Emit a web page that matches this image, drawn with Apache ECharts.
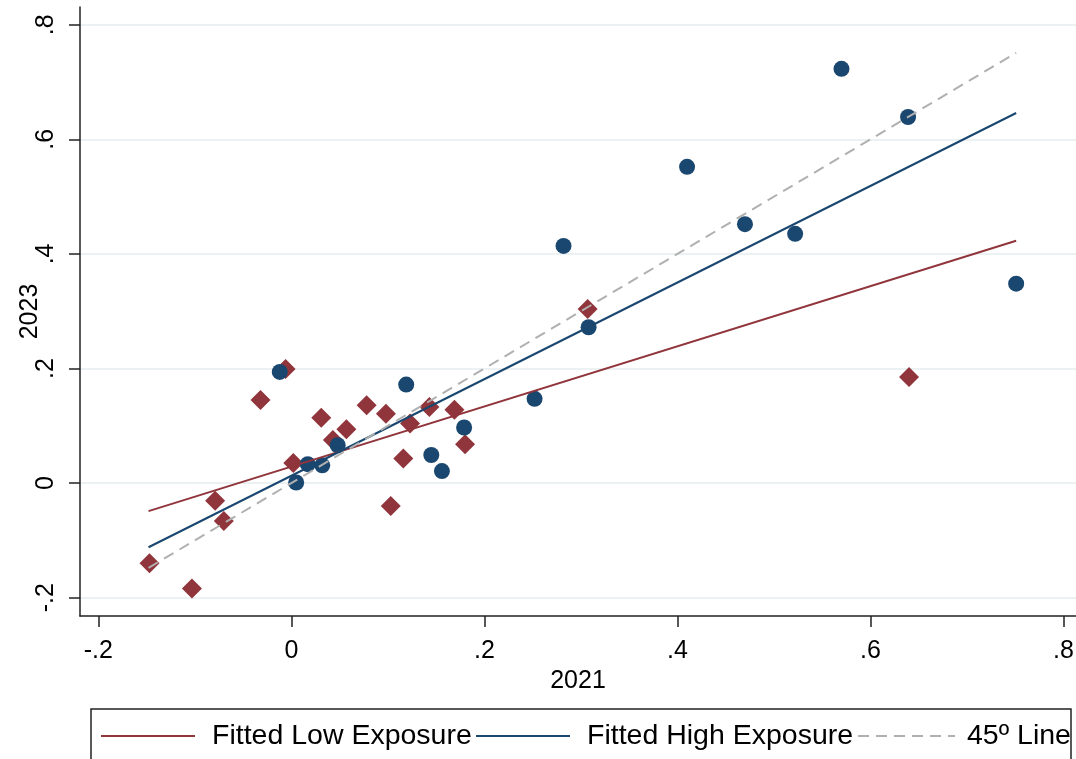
<!DOCTYPE html>
<html>
<head>
<meta charset="utf-8">
<script src="https://cdn.jsdelivr.net/npm/echarts@6/dist/echarts.min.js"></script>
<style>
  html, body { margin: 0; padding: 0; background: #fff; }
  #chart { width: 1076px; height: 759px; }
</style>
</head>
<body>
<div id="chart"></div>
<script>
// Low-exposure observations (diamonds)
const lowX = [-0.147, -0.103, -0.079, -0.070, -0.032, -0.006, 0.002, 0.031, 0.043, 0.057,
              0.078, 0.098, 0.103, 0.116, 0.123, 0.143, 0.169, 0.180, 0.307, 0.640];
const lowY = [-0.140, -0.184, -0.031, -0.066, 0.145, 0.199, 0.035, 0.114, 0.075, 0.094,
              0.136, 0.121, -0.040, 0.043, 0.104, 0.133, 0.128, 0.068, 0.304, 0.185];

// High-exposure observations (circles)
const highX = [-0.012, 0.005, 0.017, 0.032, 0.048, 0.119, 0.145, 0.156, 0.179,
               0.252, 0.282, 0.308, 0.410, 0.470, 0.522, 0.570, 0.639, 0.751];
const highY = [0.194, 0.001, 0.033, 0.031, 0.066, 0.172, 0.049, 0.021, 0.097,
               0.147, 0.414, 0.272, 0.552, 0.452, 0.435, 0.723, 0.639, 0.348];

// Fitted lines and the 45-degree reference, evaluated at the ends of the data range
const lineX = [-0.148, 0.751];
const fitLowY = [-0.049, 0.423];
const fitHighY = [-0.112, 0.646];
const diagY = [-0.148, 0.751];

// Tick positions on both axes
const tickValues = [-0.2, 0, 0.2, 0.4, 0.6, 0.8];

// Legend entries
const legendNames = ['Fitted Low Exposure', 'Fitted High Exposure', '45º Line'];

const pairs = (xs, ys) => xs.map((x, i) => [x, ys[i]]);
const fmt = v => (Math.abs(v) < 1e-9 ? '0' : v.toFixed(1).replace('0.', '.'));

const FONT = 'Liberation Sans, Arial, sans-serif';
const NAVY = '#1a476f';
const MAROON = '#90353b';
const GREY = '#b0b0b0';
const AXIS = '#222';
const DASH = [11, 7];

const chart = echarts.init(document.getElementById('chart'), null, { renderer: 'canvas' });

// Legend drawn as a framed row: line sample followed by its label
const legendY = 736;
const legendItems = [
  { name: legendNames[0], color: MAROON, dash: null, x0: 101, x1: 195, tx: 212 },
  { name: legendNames[1], color: NAVY, dash: null, x0: 476, x1: 570, tx: 587 },
  { name: legendNames[2], color: GREY, dash: DASH, x0: 858, x1: 955, tx: 967 }
];
const legendGraphics = [{
  type: 'rect',
  shape: { x: 91, y: 709, width: 980, height: 90 },
  style: { fill: '#fff', stroke: AXIS, lineWidth: 1.5 },
  silent: true
}];
legendItems.forEach(it => {
  legendGraphics.push({
    type: 'line',
    shape: { x1: it.x0, y1: legendY, x2: it.x1, y2: legendY },
    style: { stroke: it.color, lineWidth: 2, lineDash: it.dash },
    silent: true
  });
  legendGraphics.push({
    type: 'text',
    x: it.tx,
    y: legendY,
    style: {
      text: it.name,
      fontFamily: FONT,
      fontSize: 28.5,
      fill: '#000',
      textVerticalAlign: 'middle',
      verticalAlign: 'middle'
    },
    silent: true
  });
});

chart.setOption({
  animation: false,
  backgroundColor: '#fff',
  grid: { left: 80, right: 0, top: 7, bottom: 143, containLabel: false, outerBoundsMode: 'none' },
  xAxis: {
    type: 'value',
    min: -0.219,
    max: 0.813,
    name: '2021',
    nameLocation: 'middle',
    nameGap: 53,
    nameMoveOverlap: false,
    nameTextStyle: { fontFamily: FONT, fontSize: 25, color: '#000' },
    axisLine: { show: true, onZero: false, lineStyle: { color: AXIS, width: 1.5 } },
    axisTick: { show: true, length: 11, customValues: tickValues, lineStyle: { color: AXIS, width: 1.5 } },
    axisLabel: { customValues: tickValues, formatter: fmt, margin: 23, fontFamily: FONT, fontSize: 25, color: '#000', hideOverlap: false },
    splitLine: { show: false }
  },
  yAxis: {
    type: 'value',
    min: -0.232,
    max: 0.831,
    name: '2023',
    nameLocation: 'middle',
    nameRotate: 90,
    nameGap: 37,
    nameMoveOverlap: false,
    nameTextStyle: { fontFamily: FONT, fontSize: 25, color: '#000' },
    axisLine: { show: true, onZero: false, lineStyle: { color: AXIS, width: 1.5 } },
    axisTick: { show: true, length: 11, customValues: tickValues, lineStyle: { color: AXIS, width: 1.5 } },
    axisLabel: { customValues: tickValues, formatter: fmt, rotate: 90, margin: 21, fontFamily: FONT, fontSize: 25, color: '#000', hideOverlap: false },
    splitLine: { show: true, lineStyle: { color: '#e6eef1', width: 1.5 } }
  },
  graphic: legendGraphics,
  series: [
    {
      name: 'Low Exposure',
      type: 'scatter',
      symbol: 'diamond',
      symbolSize: 20,
      itemStyle: { color: MAROON, opacity: 1 },
      data: pairs(lowX, lowY)
    },
    {
      name: 'High Exposure',
      type: 'scatter',
      symbol: 'circle',
      symbolSize: 16,
      itemStyle: { color: NAVY, opacity: 1 },
      data: pairs(highX, highY)
    },
    {
      name: legendNames[0],
      type: 'line',
      symbol: 'none',
      lineStyle: { color: MAROON, width: 2 },
      data: pairs(lineX, fitLowY)
    },
    {
      name: legendNames[1],
      type: 'line',
      symbol: 'none',
      lineStyle: { color: NAVY, width: 2 },
      data: pairs(lineX, fitHighY)
    },
    {
      name: legendNames[2],
      type: 'line',
      symbol: 'none',
      lineStyle: { color: GREY, width: 2, type: DASH },
      data: pairs(lineX, diagY)
    }
  ]
});
</script>
</body>
</html>
